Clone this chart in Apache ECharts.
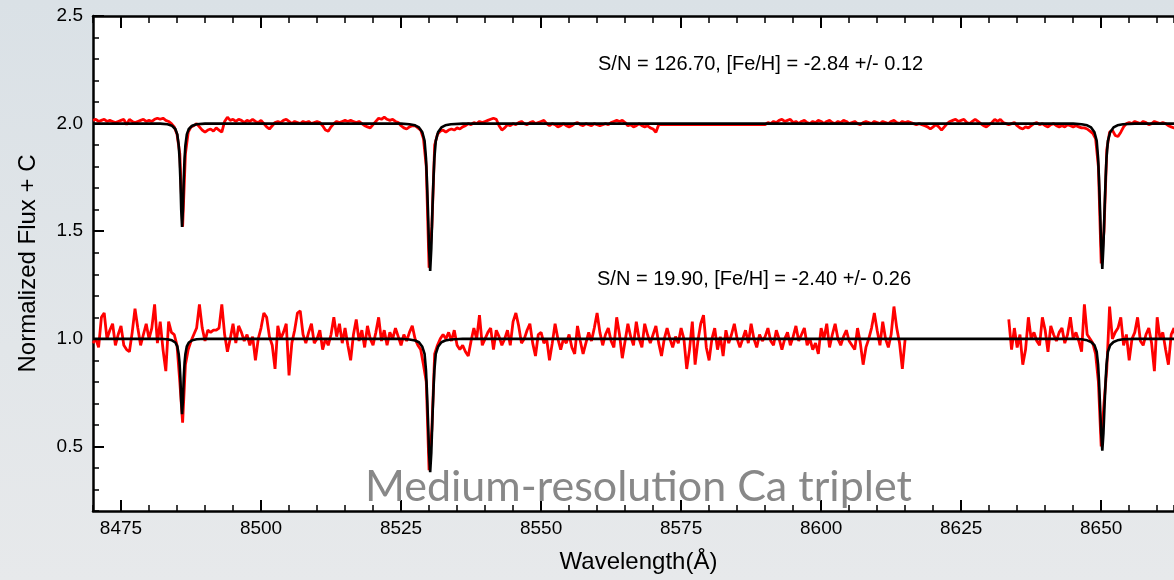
<!DOCTYPE html>
<html>
<head>
<meta charset="utf-8">
<script src="https://cdn.jsdelivr.net/npm/echarts@6/dist/echarts.min.js"></script>
<style>
  html, body { margin: 0; padding: 0; }
  #chart { width: 1174px; height: 580px; background: linear-gradient(180deg, #dae1e6 0%, #e2e6e9 60%, #e7e9eb 100%); }
</style>
</head>
<body>
<div id="chart"></div>
<script>
// ---------- DATA ----------
// Spectra sampled on a regular wavelength grid (Angstrom)
const LAMBDA_START = 8470.0;
const LAMBDA_STEP = 0.5;

// Offsets C added to the normalized flux
const OFFSET_HIGH_SN = 1.0;
const OFFSET_LOW_SN = 0.0;

// Observed normalized flux, S/N = 126.70 (rows of 10 Angstrom starting at 8470.0)
const highSNFlux = [
  1.015,1.02,1.01,1.015,1.02,1.01,1.015,1.01,1.005,1.01,1.015,1.02,0.995,1.02,1.01,1.005,1.01,1.015,1.02,1.01,
  1.015,1.01,1.02,1.025,1.02,1.025,1.015,1.01,1.0,0.985,0.95,0.86,0.52,0.86,0.96,0.985,0.99,1.0,0.985,0.97,
  0.96,0.97,0.975,0.965,0.98,0.97,0.96,1.01,1.03,1.015,1.02,1.01,1.02,1.015,1.005,1.015,1.01,1.02,1.01,1.005,
  1.015,1.0,0.985,0.975,0.99,1.005,1.01,1.005,1.015,1.02,1.01,1.0,1.01,1.005,1.0,1.01,1.005,1.01,1.0,1.005,
  1.01,1.005,0.99,0.97,0.965,0.985,1.0,1.01,1.005,1.01,1.015,1.01,1.015,1.01,1.005,1.01,1.0,0.99,0.985,0.98,
  0.995,1.01,1.025,1.02,1.03,1.02,1.015,1.02,1.01,1.005,0.99,0.98,0.975,0.985,0.99,0.99,0.98,0.97,0.93,0.8,
  0.33,0.52,0.9,0.95,0.965,0.97,0.96,0.97,0.975,0.97,0.98,0.975,0.985,0.99,1.0,0.995,1.005,1.0,1.01,1.005,
  1.01,1.015,1.02,1.025,1.02,0.99,0.97,0.98,0.995,0.99,1.0,0.995,1.005,1.01,1.0,0.995,1.005,1.01,1.0,1.005,
  1.01,1.015,1.0,0.99,1.0,0.995,0.985,0.99,1.0,0.99,0.985,0.99,1.0,1.005,0.995,0.99,1.0,0.995,0.99,1.0,
  0.995,0.99,0.995,1.0,0.995,1.005,1.01,1.015,1.01,1.015,1.005,0.99,0.995,0.985,0.99,1.0,0.99,0.985,0.99,0.98,
  0.975,0.96,0.995,null,null,null,null,null,null,null,null,null,null,null,null,null,null,null,null,null,
  null,null,null,null,null,null,null,null,null,null,null,null,null,null,null,null,null,null,null,null,
  0.995,1.005,1.0,1.01,1.005,1.015,1.02,1.01,1.015,1.02,1.005,1.01,1.0,1.01,1.015,1.005,1.0,1.01,1.005,1.015,
  1.01,1.0,1.01,1.015,1.005,1.0,1.01,1.005,1.015,1.01,1.0,1.005,1.01,1.0,0.995,1.005,1.01,1.005,1.0,1.01,
  1.005,1.0,1.01,1.005,1.0,1.01,1.015,1.005,1.0,1.01,1.005,1.01,1.005,1.0,0.995,1.0,0.995,0.99,0.985,0.975,
  0.985,0.995,0.985,0.97,0.985,1.0,1.01,1.015,1.02,1.01,1.015,1.02,1.005,1.0,1.01,1.02,1.01,1.0,0.99,0.985,
  0.995,1.005,1.02,1.01,1.02,1.005,1.0,0.995,1.0,1.005,0.99,0.98,0.975,0.985,0.98,0.99,1.0,1.005,0.995,1.0,
  0.99,0.985,0.995,1.0,0.99,0.985,0.99,0.985,0.995,0.99,0.985,0.99,0.985,0.98,0.98,0.975,0.965,0.955,0.93,0.8,
  0.35,0.5,0.88,0.96,0.97,0.945,0.94,0.96,0.985,1.0,1.005,1.0,1.01,1.005,1.0,1.01,1.005,0.995,1.0,1.01,
  1.005,1.0,1.005,1.0,0.99,0.985,0.98,0.99,1.0,1.0,1.0
];

// Observed normalized flux, S/N = 19.90 (same grid; null = no data)
const lowSNFlux = [
  0.98,1.0,0.96,1.1,1.12,1.0,1.04,1.07,0.97,1.02,1.06,0.97,0.95,0.94,1.03,1.14,1.05,0.97,1.02,1.07,
  1.0,1.05,1.16,0.98,1.08,0.95,0.85,1.08,1.03,1.02,0.97,0.8,0.61,0.88,0.95,0.99,1.02,1.05,1.16,1.05,
  0.99,1.04,1.03,1.04,1.04,1.05,1.16,1.02,0.94,1.0,1.07,0.98,1.06,1.03,0.99,1.02,0.97,1.01,0.9,1.0,
  1.05,1.12,1.1,1.01,0.97,0.86,1.06,1.0,1.03,1.07,0.83,0.98,1.04,1.12,1.13,1.02,0.98,1.03,1.07,0.98,
  1.0,1.04,0.95,1.0,0.97,1.02,1.1,1.01,1.07,0.98,1.05,0.97,0.9,1.02,1.09,0.99,1.04,0.96,1.06,1.0,
  0.97,1.03,1.1,0.99,1.04,0.97,1.03,1.0,1.05,1.01,0.97,1.02,0.99,1.03,1.06,1.0,0.97,0.95,0.88,0.8,
  0.39,0.58,0.93,0.97,1.0,1.02,1.0,1.03,0.99,1.04,0.97,0.95,0.97,0.94,0.92,0.99,1.05,1.0,1.11,0.97,
  1.0,1.03,1.05,0.95,1.04,1.01,0.97,1.0,1.04,0.97,1.08,1.12,1.06,0.98,1.0,1.04,1.07,0.98,0.92,1.02,
  1.03,0.98,1.0,0.9,0.98,1.07,1.0,0.95,1.0,0.98,1.02,0.96,0.93,1.06,0.99,0.93,0.98,1.03,0.99,1.05,
  1.12,1.03,0.97,1.02,1.05,0.99,0.96,1.1,1.02,0.91,0.99,1.07,1.01,0.97,1.08,1.0,0.96,1.07,1.02,0.98,
  1.02,1.06,0.98,0.92,1.0,1.05,1.0,0.96,1.01,0.98,1.05,1.0,0.86,0.95,1.08,0.88,0.99,1.07,1.11,0.96,
  0.9,1.0,1.05,0.95,1.01,0.92,1.04,0.98,1.02,1.07,1.0,0.96,1.0,1.04,0.98,1.07,1.0,0.96,1.02,0.99,
  1.01,1.05,0.99,0.97,1.04,1.0,0.95,1.0,1.03,0.97,1.01,1.06,0.99,1.02,1.05,0.97,1.0,0.95,0.98,0.93,
  1.05,1.0,1.07,0.96,1.02,1.07,1.0,0.97,1.01,1.04,0.99,0.97,0.95,1.05,0.98,0.88,0.96,1.0,1.05,1.12,
  1.04,0.97,1.08,1.0,0.96,1.02,1.15,1.05,0.98,0.86,1.0,null,null,null,null,null,null,null,null,null,
  null,null,null,null,null,null,null,null,null,null,null,null,null,null,null,null,null,null,null,null,
  null,null,null,null,null,null,null,1.09,0.95,1.05,0.96,1.02,0.88,0.95,1.1,1.0,1.03,0.99,0.97,1.1,
  1.04,0.94,1.06,1.02,0.99,1.03,1.05,0.98,1.02,1.1,1.0,1.03,0.99,0.94,1.16,1.02,1.0,0.98,0.93,0.8,
  0.5,0.7,0.86,1.15,1.0,1.03,1.05,1.1,0.97,1.02,0.9,1.0,1.03,1.1,0.99,0.97,1.02,1.05,0.98,0.85,
  1.1,1.0,1.03,0.95,0.88,1.02,1.05,0.98,1.02,0.99,1.01
];

// Synthetic (model) spectra: [wavelength, normalized flux]
const highSNModel = [
  [8470,1.0],[8482.0,1.0],[8483.3,0.997],[8484.1,0.99],[8484.7,0.975],[8485.05,0.95],[8485.3,0.9],[8485.45,0.84],
  [8485.6,0.74],[8485.75,0.6],[8485.9,0.52],[8486.05,0.6],[8486.2,0.74],[8486.35,0.84],[8486.5,0.9],[8486.75,0.95],
  [8487.1,0.975],[8487.7,0.99],[8488.5,0.997],[8490,1.0],
  [8525.0,1.0],[8526.5,0.997],[8527.5,0.992],[8528.2,0.982],[8528.8,0.96],[8529.2,0.92],[8529.45,0.84],[8529.6,0.75],
  [8529.8,0.6],[8530.0,0.42],[8530.2,0.316],[8530.4,0.42],[8530.6,0.6],[8530.8,0.75],[8530.95,0.84],[8531.2,0.92],
  [8531.6,0.96],[8532.2,0.982],[8532.9,0.992],[8533.9,0.997],[8536,1.0],
  [8645.0,1.0],[8646.5,0.997],[8647.5,0.992],[8648.2,0.982],[8648.8,0.96],[8649.2,0.92],[8649.45,0.84],[8649.6,0.75],
  [8649.8,0.6],[8650.0,0.43],[8650.2,0.325],[8650.4,0.43],[8650.6,0.6],[8650.8,0.75],[8650.95,0.84],[8651.2,0.92],
  [8651.6,0.96],[8652.2,0.982],[8652.9,0.992],[8653.9,0.997],[8656,1.0],[8665,1.0]
];
const lowSNModel = [
  [8470,1.0],[8482.0,1.0],[8483.3,0.998],[8484.1,0.993],[8484.7,0.983],[8485.05,0.965],[8485.3,0.93],[8485.45,0.89],
  [8485.6,0.82],[8485.75,0.71],[8485.9,0.65],[8486.05,0.71],[8486.2,0.82],[8486.35,0.89],[8486.5,0.93],[8486.75,0.965],
  [8487.1,0.983],[8487.7,0.993],[8488.5,0.998],[8490,1.0],
  [8525.0,1.0],[8526.5,0.997],[8527.5,0.992],[8528.2,0.984],[8528.8,0.963],[8529.2,0.93],[8529.45,0.855],[8529.6,0.77],
  [8529.8,0.63],[8530.0,0.47],[8530.2,0.38],[8530.4,0.47],[8530.6,0.63],[8530.8,0.77],[8530.95,0.855],[8531.2,0.93],
  [8531.6,0.963],[8532.2,0.984],[8532.9,0.992],[8533.9,0.997],[8536,1.0],
  [8645.0,1.0],[8646.5,0.998],[8647.5,0.993],[8648.2,0.985],[8648.8,0.97],[8649.2,0.94],[8649.45,0.88],[8649.6,0.81],
  [8649.8,0.69],[8650.0,0.56],[8650.2,0.48],[8650.4,0.56],[8650.6,0.69],[8650.8,0.81],[8650.95,0.88],[8651.2,0.94],
  [8651.6,0.97],[8652.2,0.985],[8652.9,0.993],[8653.9,0.998],[8656,1.0],[8665,1.0]
];

// Axis ranges and tick labels
const X_MIN = 8470, X_MAX = 8663;
const Y_MIN = 0.2, Y_MAX = 2.5;
const xMajorTicks = [8475, 8500, 8525, 8550, 8575, 8600, 8625, 8650];
const yMajorTicks = [0.5, 1.0, 1.5, 2.0, 2.5];
const xAxisTitle = 'Wavelength(Å)';
const yAxisTitle = 'Normalized Flux + C';
const annotationHigh = 'S/N = 126.70, [Fe/H] = -2.84 +/- 0.12';
const annotationLow = 'S/N = 19.90, [Fe/H] = -2.40 +/- 0.26';
const watermark = 'Medium-resolution Ca triplet';

// ---------- BUILD ----------
function gridSeries(flux, offset, dropNull) {
  const out = [];
  flux.forEach((f, i) => {
    const lam = LAMBDA_START + i * LAMBDA_STEP;
    if (f === null) { if (!dropNull) out.push([lam, '-']); }
    else out.push([lam, f + offset]);
  });
  return out;
}
const highObs = gridSeries(highSNFlux, OFFSET_HIGH_SN, true);
const lowObs = gridSeries(lowSNFlux, OFFSET_LOW_SN, false);
const highMod = highSNModel.map(p => [p[0], p[1] + OFFSET_HIGH_SN]);
const lowMod = lowSNModel.map(p => [p[0], p[1] + OFFSET_LOW_SN]);

const FONT = '"Liberation Sans", Arial, Helvetica, sans-serif';
const AX = { color: '#000', width: 2.5 };

const chart = echarts.init(document.getElementById('chart'), null, { renderer: 'canvas' });
chart.setOption({
  animation: false,
  backgroundColor: 'transparent',
  grid: { left: 93, top: 16, right: 0, height: 495, show: true, backgroundColor: '#ffffff', borderWidth: 0 },
  xAxis: [
    { type: 'value', min: X_MIN, max: X_MAX, interval: 5, position: 'bottom',
      axisLine: { show: true, lineStyle: AX }, axisTick: { show: true, inside: true, length: 6, lineStyle: { color: '#000', width: 1.5 } },
      axisLabel: { show: false }, splitLine: { show: false },
      name: xAxisTitle, nameLocation: 'middle', nameGap: 39,
      nameTextStyle: { fontFamily: FONT, fontSize: 24, color: '#000', padding: [0, 0, 0, 10] } },
    { type: 'value', min: X_MIN, max: X_MAX, position: 'bottom',
      axisLine: { show: false }, axisTick: { show: true, inside: true, length: 11, customValues: xMajorTicks, lineStyle: { color: '#000', width: 2 } },
      axisLabel: { show: true, customValues: xMajorTicks, formatter: v => String(v), fontFamily: FONT, fontSize: 19, color: '#000', margin: 8 },
      splitLine: { show: false } },
    { type: 'value', min: X_MIN, max: X_MAX, interval: 5, position: 'top',
      axisLine: { show: true, lineStyle: AX }, axisTick: { show: true, inside: true, length: 7, lineStyle: { color: '#000', width: 1.5 } },
      axisLabel: { show: false }, splitLine: { show: false } },
    { type: 'value', min: X_MIN, max: X_MAX, position: 'top',
      axisLine: { show: false }, axisTick: { show: true, inside: true, length: 12, customValues: xMajorTicks, lineStyle: { color: '#000', width: 2 } },
      axisLabel: { show: false }, splitLine: { show: false } }
  ],
  yAxis: [
    { type: 'value', min: Y_MIN, max: Y_MAX, interval: 0.1, position: 'left',
      axisLine: { show: true, lineStyle: AX }, axisTick: { show: true, inside: true, length: 6, lineStyle: { color: '#000', width: 1.5 } },
      axisLabel: { show: false }, splitLine: { show: false },
      name: yAxisTitle, nameLocation: 'middle', nameGap: 53, nameRotate: 90,
      nameTextStyle: { fontFamily: FONT, fontSize: 24, color: '#000' } },
    { type: 'value', min: Y_MIN, max: Y_MAX, position: 'left',
      axisLine: { show: false }, axisTick: { show: true, inside: true, length: 11, customValues: yMajorTicks, lineStyle: { color: '#000', width: 2 } },
      axisLabel: { show: true, customValues: yMajorTicks, formatter: v => Number(v).toFixed(1), fontFamily: FONT, fontSize: 19, color: '#000', margin: 10 },
      splitLine: { show: false } }
  ],
  series: [
    { type: 'line', name: 'obs S/N 126.70', data: highObs, xAxisIndex: 0, yAxisIndex: 0, showSymbol: false, symbol: 'none',
      connectNulls: true, lineStyle: { color: '#ff0000', width: 2.8 }, z: 2, silent: true },
    { type: 'line', name: 'obs S/N 19.90', data: lowObs, xAxisIndex: 0, yAxisIndex: 0, showSymbol: false, symbol: 'none',
      connectNulls: false, lineStyle: { color: '#ff0000', width: 2.8 }, z: 2, silent: true },
    { type: 'line', name: 'model 1', data: highMod, xAxisIndex: 0, yAxisIndex: 0, showSymbol: false, symbol: 'none',
      lineStyle: { color: '#000000', width: 2.6 }, z: 3, silent: true },
    { type: 'line', name: 'model 2', data: lowMod, xAxisIndex: 0, yAxisIndex: 0, showSymbol: false, symbol: 'none',
      lineStyle: { color: '#000000', width: 2.6 }, z: 3, silent: true }
  ],
  graphic: [
    { type: 'text', left: 598, top: 54, z: 10,
      style: { text: annotationHigh, font: '20px ' + FONT, fill: '#000' } },
    { type: 'text', left: 597, top: 269, z: 10,
      style: { text: annotationLow, font: '20px ' + FONT, fill: '#000' } },
    { type: 'text', left: 365, top: 466, z: 10,
      style: { text: watermark, font: '43px Lato, "Open Sans", sans-serif', fill: '#888888' } }
  ]
});
</script>
</body>
</html>
